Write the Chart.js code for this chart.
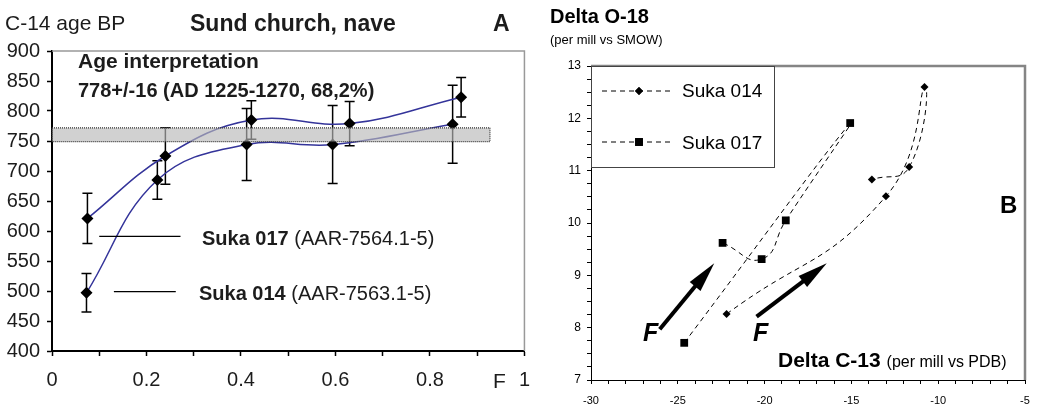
<!DOCTYPE html>
<html>
<head>
<meta charset="utf-8">
<script src="https://cdn.jsdelivr.net/npm/chart.js@4.4.1/dist/chart.umd.min.js"></script>
<style>
  body { margin: 0; background: #fff; width: 1049px; height: 410px; overflow: hidden; position: relative;
         font-family: "Liberation Sans", Arial, sans-serif; color: #1c1c1c; }
  #wrapA { position: absolute; left: 0; top: 0; }
  #wrapB { position: absolute; left: 535px; top: 0; }
  .t { position: absolute; white-space: nowrap; line-height: 1; }
  .b { font-weight: bold; }
</style>
</head>
<body>
<div id="wrapA"><canvas id="chartA" width="542" height="410"></canvas></div>
<div id="wrapB"><canvas id="chartB" width="514" height="410"></canvas></div>

<!-- panel A texts -->
<div class="t" style="left:5px;top:12px;font-size:21px;">C-14 age BP</div>
<div class="t b" style="left:190px;top:12px;font-size:23px;">Sund church, nave</div>
<div class="t b" style="left:493px;top:12px;font-size:23px;">A</div>
<div class="t b" style="left:78px;top:50px;font-size:21px;">Age interpretation</div>
<div class="t b" style="left:78px;top:80px;font-size:20px;">778+/-16 (AD 1225-1270, 68,2%)</div>
<div class="t" style="left:202px;top:228px;font-size:20px;"><span class="b">Suka 017</span> (AAR-7564.1-5)</div>
<div class="t" style="left:199px;top:283px;font-size:20px;"><span class="b">Suka 014</span> (AAR-7563.1-5)</div>
<div class="t" style="left:493px;top:370px;font-size:21px;">F</div>

<!-- panel B texts -->
<div class="t b" style="left:550px;top:6px;font-size:20px;color:#000;">Delta O-18</div>
<div class="t" style="left:550px;top:33px;font-size:13px;color:#000;">(per mill vs SMOW)</div>
<div class="t" style="left:682px;top:81px;font-size:19px;color:#000;">Suka 014</div>
<div class="t" style="left:682px;top:133px;font-size:19px;color:#000;">Suka 017</div>
<div class="t b" style="left:1000px;top:193px;font-size:24px;color:#000;">B</div>
<div class="t b" style="left:643px;top:320px;font-size:25px;font-style:italic;color:#000;">F</div>
<div class="t b" style="left:753px;top:320px;font-size:25px;font-style:italic;color:#000;">F</div>
<div class="t b" style="left:778px;top:349px;font-size:21px;color:#000;">Delta C-13 <span style="font-weight:normal;font-size:16px;">(per mill vs PDB)</span></div>

<script>
// Panel A: C-14 age BP against fraction F
const fracF014 = [0.073, 0.223, 0.412, 0.594, 0.848];
const age014 = [497, 685, 744, 744, 778];
const err014 = [32, 32, 60, 65, 65];
const fracF017 = [0.075, 0.24, 0.422, 0.63, 0.866];
const age017 = [621, 725, 785, 779, 823];
const err017 = [42, 47, 32, 37, 33];
// age interpretation band
const bandF = [0, 0.927];
const bandAge = [749, 772];
// label pointer lines
const ptr017F = [0.1, 0.272];
const ptr017Age = 591;
const ptr014F = [0.131, 0.262];
const ptr014Age = 499;

// Panel B: delta O-18 against delta C-13
const c13_014 = [-22.19, -13.01, -10.79, -11.67, -13.82];
const o18_014 = [8.26, 10.51, 12.6, 11.07, 10.83];
const c13_017 = [-24.63, -15.07, -18.78, -20.17, -22.42];
const o18_017 = [7.71, 11.91, 10.05, 9.31, 9.62];
// "F" direction arrows (tail -> tip)
const arrowTail = [[-26.04, 7.97], [-20.46, 8.21]];
const arrowTip = [[-22.9, 9.23], [-16.42, 9.23]];

Chart.defaults.font.family = '"Liberation Sans", Arial, sans-serif';
Chart.defaults.color = '#1c1c1c';

const zip = (xs, ys) => xs.map((x, i) => ({ x: x, y: ys[i] }));
const navy = '#34349a';

const panelAExtras = {
  id: 'panelAExtras',
  beforeDatasetsDraw(chart) {
    const { ctx, scales: { x, y } } = chart;
    ctx.save();
    ctx.strokeStyle = '#000';
    ctx.lineWidth = 1.5;
    [[fracF014, age014, err014], [fracF017, age017, err017]].forEach(([fs, as, es]) => {
      fs.forEach((f, i) => {
        const px = x.getPixelForValue(f);
        const top = y.getPixelForValue(as[i] + es[i]);
        const bot = y.getPixelForValue(as[i] - es[i]);
        ctx.beginPath();
        ctx.moveTo(px, top); ctx.lineTo(px, bot);
        ctx.moveTo(px - 5, top); ctx.lineTo(px + 5, top);
        ctx.moveTo(px - 5, bot); ctx.lineTo(px + 5, bot);
        ctx.stroke();
      });
    });
    ctx.restore();
  },
  afterDatasetsDraw(chart) {
    const { ctx, scales: { x, y } } = chart;
    ctx.save();
    // band
    const bx0 = x.getPixelForValue(bandF[0]), bx1 = x.getPixelForValue(bandF[1]);
    const by0 = y.getPixelForValue(bandAge[1]), by1 = y.getPixelForValue(bandAge[0]);
    ctx.fillStyle = 'rgba(185,185,185,0.65)';
    ctx.fillRect(bx0, by0, bx1 - bx0, by1 - by0);
    ctx.setLineDash([1, 1]);
    ctx.strokeStyle = '#333';
    ctx.lineWidth = 1.2;
    ctx.strokeRect(bx0, by0, bx1 - bx0, by1 - by0);
    ctx.setLineDash([]);
    // pointer lines
    ctx.strokeStyle = '#000';
    ctx.lineWidth = 1.3;
    ctx.beginPath();
    ctx.moveTo(x.getPixelForValue(ptr017F[0]), y.getPixelForValue(ptr017Age));
    ctx.lineTo(x.getPixelForValue(ptr017F[1]), y.getPixelForValue(ptr017Age));
    ctx.moveTo(x.getPixelForValue(ptr014F[0]), y.getPixelForValue(ptr014Age));
    ctx.lineTo(x.getPixelForValue(ptr014F[1]), y.getPixelForValue(ptr014Age));
    ctx.stroke();
    ctx.restore();
  },
  afterDraw(chart) {
    const { ctx, chartArea: a } = chart;
    ctx.save();
    ctx.strokeStyle = '#999';
    ctx.lineWidth = 1.5;
    ctx.beginPath();
    ctx.moveTo(a.left, a.top);
    ctx.lineTo(a.right, a.top);
    ctx.lineTo(a.right, a.bottom);
    ctx.stroke();
    ctx.restore();
  }
};

new Chart(document.getElementById('chartA'), {
  type: 'scatter',
  data: {
    datasets: [
      { data: zip(fracF014, age014), pointStyle: 'rectRot', pointRadius: 6, backgroundColor: '#000', borderColor: '#000', borderWidth: 0, order: 0 },
      { data: zip(fracF017, age017), pointStyle: 'rectRot', pointRadius: 6, backgroundColor: '#000', borderColor: '#000', borderWidth: 0, order: 0 },
      { data: zip(fracF014, age014), showLine: true, pointRadius: 0, borderColor: navy, borderWidth: 1.5, tension: 0.4, order: 1 },
      { data: zip(fracF017, age017), showLine: true, pointRadius: 0, borderColor: navy, borderWidth: 1.5, tension: 0.4, order: 1 }
    ]
  },
  options: {
    responsive: false,
    animation: false,
    layout: { padding: { top: 51, right: 9, left: 0, bottom: 0 } },
    plugins: { legend: { display: false }, tooltip: { enabled: false } },
    scales: {
      x: {
        type: 'linear', min: 0, max: 1,
        ticks: {
          stepSize: 0.1, autoSkip: false, maxRotation: 0, padding: 12,
          font: { size: 20 }, color: '#1c1c1c',
          callback: (v) => { const k = Math.round(v * 10); return k % 2 ? '' : String(k / 10); }
        },
        grid: { drawOnChartArea: false, tickLength: 5, color: '#000', tickWidth: 1.5 },
        border: { color: '#000', width: 2 },
        afterFit: (s) => { s.height = 59; }
      },
      y: {
        min: 400, max: 900,
        ticks: { stepSize: 50, padding: 7, font: { size: 20 }, color: '#1c1c1c' },
        grid: { drawOnChartArea: false, tickLength: 5, color: '#000', tickWidth: 1.5 },
        border: { color: '#000', width: 2 },
        afterFit: (s) => { s.width = 52; }
      }
    }
  },
  plugins: [panelAExtras]
});

const panelBExtras = {
  id: 'panelBExtras',
  afterDraw(chart) {
    const { ctx, chartArea: a, scales: { x, y } } = chart;
    ctx.save();
    // frame
    ctx.strokeStyle = '#858585';
    ctx.lineWidth = 2.5;
    ctx.beginPath();
    ctx.moveTo(a.left, a.top);
    ctx.lineTo(a.right, a.top);
    ctx.lineTo(a.right, a.bottom);
    ctx.stroke();
    // legend box
    const lw = 183, lh = 101;
    ctx.fillStyle = '#fff';
    ctx.fillRect(a.left, a.top, lw, lh);
    ctx.strokeStyle = '#444';
    ctx.lineWidth = 1;
    ctx.strokeRect(a.left + 0.5, a.top + 0.5, lw, lh);
    ctx.strokeStyle = '#000';
    ctx.setLineDash([5, 4]);
    [[25, 'rectRot', 4], [76, 'rect', 5.5]].forEach(([dy, style, r]) => {
      ctx.beginPath();
      ctx.moveTo(a.left + 11, a.top + dy);
      ctx.lineTo(a.left + 81, a.top + dy);
      ctx.stroke();
      ctx.fillStyle = '#000';
      Chart.helpers.drawPoint(ctx, { pointStyle: style, radius: r, borderWidth: 0 }, a.left + 48, a.top + dy);
      ctx.fill();
    });
    ctx.setLineDash([]);
    // arrows
    ctx.fillStyle = '#000';
    ctx.strokeStyle = '#000';
    arrowTail.forEach((t, i) => {
      const x0 = x.getPixelForValue(t[0]), y0 = y.getPixelForValue(t[1]);
      const x1 = x.getPixelForValue(arrowTip[i][0]), y1 = y.getPixelForValue(arrowTip[i][1]);
      const len = Math.hypot(x1 - x0, y1 - y0);
      const ux = (x1 - x0) / len, uy = (y1 - y0) / len;
      const hb = 30, hw = 7;
      const bx = x1 - ux * hb, by = y1 - uy * hb;
      ctx.lineWidth = 4;
      ctx.beginPath();
      ctx.moveTo(x0, y0);
      ctx.lineTo(bx + ux * 4, by + uy * 4);
      ctx.stroke();
      ctx.beginPath();
      ctx.moveTo(x1, y1);
      ctx.lineTo(bx - uy * hw, by + ux * hw);
      ctx.lineTo(bx + uy * hw, by - ux * hw);
      ctx.closePath();
      ctx.fill();
    });
    ctx.restore();
  }
};

new Chart(document.getElementById('chartB'), {
  type: 'scatter',
  data: {
    datasets: [
      { data: zip(c13_014, o18_014), showLine: true, borderColor: '#000', borderWidth: 1, borderDash: [5, 4], tension: 0.5,
        pointStyle: 'rectRot', pointRadius: 4, backgroundColor: '#000', pointBorderWidth: 0 },
      { data: zip(c13_017, o18_017), showLine: true, borderColor: '#000', borderWidth: 1, borderDash: [5, 4], tension: 0.5,
        pointStyle: 'rect', pointRadius: 5.5, backgroundColor: '#000', pointBorderWidth: 0 }
    ]
  },
  options: {
    responsive: false,
    animation: false,
    layout: { padding: { top: 66, right: 24, left: 0, bottom: 0 } },
    plugins: { legend: { display: false }, tooltip: { enabled: false } },
    scales: {
      x: {
        type: 'linear', min: -30, max: -5,
        ticks: {
          stepSize: 1, autoSkip: false, maxRotation: 0, maxTicksLimit: 100, padding: 10,
          font: { size: 11 }, color: '#000',
          callback: (v) => (v % 5 === 0 ? String(v) : '')
        },
        grid: { drawOnChartArea: false, tickLength: 4, color: '#000' },
        border: { color: '#000', width: 1 },
        afterFit: (s) => { s.height = 30; }
      },
      y: {
        min: 7, max: 13,
        ticks: {
          stepSize: 0.25, autoSkip: false, maxTicksLimit: 100, padding: 6,
          font: { size: 12 }, color: '#000',
          callback: (v) => (Number.isInteger(v) ? String(v) : '')
        },
        grid: { drawOnChartArea: false, tickLength: 4, color: '#000' },
        border: { color: '#000', width: 1 },
        afterFit: (s) => { s.width = 56; }
      }
    }
  },
  plugins: [panelBExtras]
});
</script>
</body>
</html>
